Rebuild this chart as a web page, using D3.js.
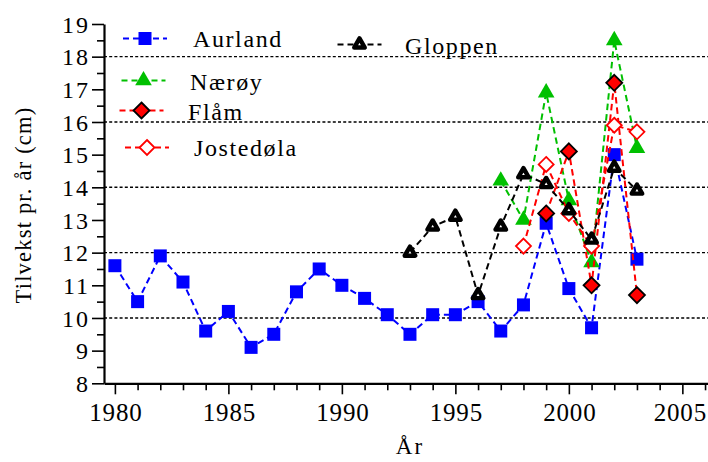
<!DOCTYPE html>
<html>
<head>
<meta charset="utf-8">
<script src="https://cdn.jsdelivr.net/npm/d3@7"></script>
<style>
  body { margin: 0; background: #fff; }
  svg { display: block; }
  svg text { font-family: "Liberation Serif", "Times New Roman", serif; fill: #000; }
</style>
</head>
<body>
<script>
// data
const aurland_years = d3.range(1980, 2004);
const aurland_values = [11.6, 10.5, 11.9, 11.1, 9.6, 10.2, 9.1, 9.5, 10.8, 11.5, 11.0, 10.6,
    10.1, 9.5, 10.1, 10.1, 10.5, 9.6, 10.4, 12.9, 10.9, 9.7, 15.0, 11.8];

const gloppen_years = d3.range(1993, 2004);
const gloppen_values = [12.0, 12.8, 13.1, 10.7, 12.8, 14.4, 14.1, 13.3, 12.4, 14.6, 13.9];

const naroy_years = d3.range(1997, 2004);
const naroy_values = [14.2, 13.0, 16.9, 13.6, 11.7, 18.5, 15.2];

const flam_years = d3.range(1999, 2004);
const flam_values = [13.2, 15.1, 11.0, 17.2, 10.7];

const jost_years = d3.range(1998, 2004);
const jost_values = [12.2, 14.7, 13.2, 12.2, 15.9, 15.7];

const y_ticks = d3.range(8, 20);
const grid_values = [10, 12, 14, 16, 18];
const x_ticks = [1980, 1985, 1990, 1995, 2000, 2005];

const WIDTH = 708;
const HEIGHT = 462;

const x = d3.scaleLinear().domain([1979.52, 2006.13]).range([104, 708]);
const y = d3.scaleLinear().domain([8, 19]).range([383.3, 24]);

const svg = d3.select("body").append("svg")
    .attr("width", WIDTH)
    .attr("height", HEIGHT);

// grid
svg.append("g").selectAll("line")
    .data(grid_values)
    .enter().append("line")
    .attr("x1", x.range()[0]).attr("x2", x.range()[1])
    .attr("y1", d => y(d)).attr("y2", d => y(d))
    .attr("stroke", "#000")
    .attr("stroke-width", 1.4)
    .attr("stroke-dasharray", "3,2.2");

// y axis
const y_axis = svg.append("g")
    .attr("transform", `translate(${x.range()[0]},0)`)
    .call(d3.axisLeft(y).tickValues(y_ticks).tickFormat(d3.format("d")).tickSize(12).tickSizeOuter(0));
svg.append("g")
    .attr("transform", `translate(${x.range()[0]},0)`)
    .call(d3.axisLeft(y).tickValues(d3.range(8.5, 19, 1)).tickFormat("").tickSize(7).tickSizeOuter(0))
    .select(".domain").remove();

// x axis
const x_axis = svg.append("g")
    .attr("transform", `translate(0,${y.range()[0]})`)
    .call(d3.axisBottom(x).tickValues(x_ticks).tickFormat(d3.format("d")).tickSize(11).tickSizeOuter(0));
svg.append("g")
    .attr("transform", `translate(0,${y.range()[0]})`)
    .call(d3.axisBottom(x).tickValues(d3.range(1981, 2007).filter(d => d % 5 !== 0)).tickFormat("").tickSize(7).tickSizeOuter(0))
    .select(".domain").remove();

svg.selectAll("g").attr("font-family", null);
svg.selectAll(".domain").attr("stroke-width", 2.2);
svg.selectAll(".tick line").attr("stroke-width", 1.6);

y_axis.selectAll("text")
    .attr("x", -14)
    .attr("dy", "0.34em")
    .style("font-size", "24px")
    .style("letter-spacing", "2px");
x_axis.selectAll("text")
    .attr("y", 37.4)
    .attr("dy", null)
    .attr("dx", d => d === 2005 ? "-2.5px" : "0.5px")
    .style("font-size", "25px")
    .style("letter-spacing", "0.8px");

// axis titles
svg.append("text")
    .attr("transform", "translate(31,205) rotate(-90)")
    .attr("text-anchor", "middle")
    .style("font-size", "22.5px")
    .style("letter-spacing", "1.2px")
    .text("Tilvekst pr. år (cm)");
svg.append("text")
    .attr("x", 410).attr("y", 453.5)
    .attr("text-anchor", "middle")
    .style("font-size", "23px")
    .style("letter-spacing", "2px")
    .text("År");

// markers
const tri = d3.symbol().type(d3.symbolTriangle);
const draw_marker = function (g, kind, color, px, py) {
    if (kind === "square") {
        g.append("rect")
            .attr("x", px - 6.5).attr("y", py - 6.5)
            .attr("width", 13).attr("height", 13)
            .attr("fill", color);
    } else if (kind === "tri_fill") {
        g.append("path")
            .attr("d", tri.size(120)())
            .attr("transform", `translate(${px},${py})`)
            .attr("fill", color);
    } else if (kind === "tri_open") {
        g.append("path")
            .attr("d", tri.size(48)())
            .attr("transform", `translate(${px},${py})`)
            .attr("fill", "#fff")
            .attr("stroke", color)
            .attr("stroke-width", 4.4)
            .attr("stroke-linejoin", "round");
    } else if (kind === "dia_fill") {
        g.append("path")
            .attr("d", "M0,-8L8,0L0,8L-8,0Z")
            .attr("transform", `translate(${px},${py})`)
            .attr("fill", color)
            .attr("stroke", "#000")
            .attr("stroke-width", 1.8);
    } else if (kind === "dia_open") {
        g.append("path")
            .attr("d", "M0,-7.5L7.5,0L0,7.5L-7.5,0Z")
            .attr("transform", `translate(${px},${py})`)
            .attr("fill", "#fff")
            .attr("stroke", color)
            .attr("stroke-width", 1.8);
    }
};

const series = [
    {name: "Aurland", years: aurland_years, values: aurland_values, color: "#0000ff", marker: "square"},
    {name: "Nærøy", years: naroy_years, values: naroy_values, color: "#00c000", marker: "tri_fill"},
    {name: "Flåm", years: flam_years, values: flam_values, color: "#ff0000", marker: "dia_fill"},
    {name: "Jostedøla", years: jost_years, values: jost_values, color: "#ff0000", marker: "dia_open"},
    {name: "Gloppen", years: gloppen_years, values: gloppen_values, color: "#000000", marker: "tri_open"}
];

const line = d3.line().x(d => x(d[0])).y(d => y(d[1]));

series.forEach(s => {
    const g = svg.append("g");
    const pts = s.years.map((yr, i) => [yr, s.values[i]]);
    g.append("path")
        .attr("d", line(pts))
        .attr("fill", "none")
        .attr("stroke", s.color)
        .attr("stroke-width", 2)
        .attr("stroke-dasharray", "6.5,4");
    pts.forEach(p => draw_marker(g, s.marker, s.color, x(p[0]), y(p[1])));
});

// legend
const legend_items = [
    {s: 0, lx: 145, ly: 38.5, tx: 193, ty: 47},
    {s: 4, lx: 359.5, ly: 44.5, tx: 405, ty: 53.5},
    {s: 1, lx: 143.5, ly: 80.5, tx: 190, ty: 89.5},
    {s: 2, lx: 141.5, ly: 110.5, tx: 188, ty: 119.5},
    {s: 3, lx: 147, ly: 147.5, tx: 194, ty: 155.5}
];

legend_items.forEach(item => {
    const s = series[item.s];
    const g = svg.append("g");
    g.append("line")
        .attr("x1", item.lx - 22).attr("x2", item.lx + 22)
        .attr("y1", item.ly).attr("y2", item.ly)
        .attr("stroke", s.color)
        .attr("stroke-width", 2)
        .attr("stroke-dasharray", "6,4");
    draw_marker(g, s.marker, s.color, item.lx, item.ly);
    g.append("text")
        .attr("x", item.tx).attr("y", item.ty)
        .style("font-size", "24px")
        .style("letter-spacing", "1.6px")
        .text(s.name);
});
</script>
</body>
</html>
